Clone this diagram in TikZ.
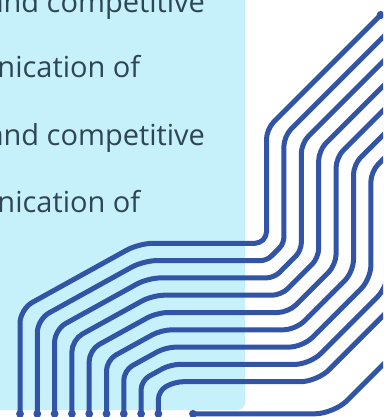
\documentclass[tikz,border=0pt]{standalone}
\usepackage{fontspec}
\setmainfont{Open Sans}
\usetikzlibrary{calc}
\definecolor{wire}{RGB}{50,84,166}
\definecolor{panel}{RGB}{198,241,251}
\definecolor{ink}{RGB}{46,69,86}
\begin{document}
\begin{tikzpicture}[x=1pt,y=-1pt,
  wirestyle/.style={draw=wire,line width=5pt,line cap=round,line join=round},
  textline/.style={anchor=base west,inner sep=0pt,outer sep=0pt,text=ink,font=\fontsize{29}{35}\selectfont}]
\useasboundingbox (0,0) rectangle (383,417);
\clip (0,0) rectangle (383,417);
\fill[white] (0,0) rectangle (383,417);
\fill[panel] (-10,-10) -- (245,-10) -- (245,403) .. controls (245,406.9) and (241.1,410) .. (238,410) -- (-10,410) -- cycle;
\node[textline] (t1) at (-12.5,12.5) {and competitive};
\node[textline] (t2) at (-2.5,77.5) {nication of};
\node[textline] (t3) at (-12.5,145) {and competitive};
\node[textline] (t4) at (-2.5,212.5) {nication of};
\def\re{10}
\foreach \i in {0,...,8} {
  \pgfmathsetmacro\xl{20+17.3*\i}
  \pgfmathsetmacro\yh{243.3+17.3*\i}
  \pgfmathsetmacro\cc{320.3+19.78*\i}
  \pgfmathsetmacro\ay{\cc-0.554*\xl}
  \pgfmathsetmacro\bx{(\cc-\yh)/0.554}
  \pgfmathsetmacro\kk{503+24.47*\i}
  \pgfmathsetmacro\cx{\kk-\yh}
  \pgfmathsetmacro\xr{266.5+17.4*\i}
  \pgfmathsetmacro\dy{\kk-\xr}
  \pgfmathsetmacro\qq{395.7+24.47*\i}
  \pgfmathsetmacro\ey{\qq-\xr}
  \pgfmathsetmacro\endx{ifthenelse(\i==0,380.7,420)}
  \pgfmathsetmacro\endy{\qq-\endx}
  \pgfmathsetmacro\rl{14-0.7*\i}
  \pgfmathsetmacro\rc{4.7+1.5*\i}
  \coordinate (A) at (\xl,\ay);
  \coordinate (B) at (\bx,\yh);
  \coordinate (C) at (\cx,\yh);
  \coordinate (D) at (\xr,\dy);
  \coordinate (E) at (\xr,\ey);
  \draw[wirestyle] (\xl,413.8)
    -- ($(A)+(0,\rl)$)
    .. controls ($(A)+(0,0.4477*\rl)$) and ($(A)+(0.3917*\rl,-0.2170*\rl)$) .. ($(A)+(0.8749*\rl,-0.4847*\rl)$)
    -- ($(B)+(-0.8749*\rl,0.4847*\rl)$)
    .. controls ($(B)+(-0.3917*\rl,0.2170*\rl)$) and ($(B)+(0.4477*\rl,0)$) .. ($(B)+(\rl,0)$)
    -- ($(C)+(-\rc,0)$)
    .. controls ($(C)+(-0.4477*\rc,0)$) and ($(C)+(0.3166*\rc,-0.3166*\rc)$) .. ($(C)+(0.7071*\rc,-0.7071*\rc)$)
    -- ($(D)+(-0.7071*\rc,0.7071*\rc)$)
    .. controls ($(D)+(-0.3166*\rc,0.3166*\rc)$) and ($(D)+(0,-0.4477*\rc)$) .. ($(D)+(0,-\rc)$)
    -- ($(E)+(0,\re)$)
    .. controls ($(E)+(0,0.4477*\re)$) and ($(E)+(0.3166*\re,-0.3166*\re)$) .. ($(E)+(0.7071*\re,-0.7071*\re)$)
    -- (\endx,\endy);
  \fill[wire] (\xl,413.8) circle (3.9);
}
\coordinate (F) at (333.9,413.8);
\draw[wirestyle] (193,413.8) -- ($(F)+(-19,0)$)
  .. controls ($(F)+(-8.5,0)$) and ($(F)+(6.0,-6.0)$) .. ($(F)+(13.4,-13.4)$) -- (420,327.7);
\fill[wire] (193,413.8) circle (3.9);
\fill[wire] (380.7,15) circle (4.1);
\end{tikzpicture}
\end{document}
